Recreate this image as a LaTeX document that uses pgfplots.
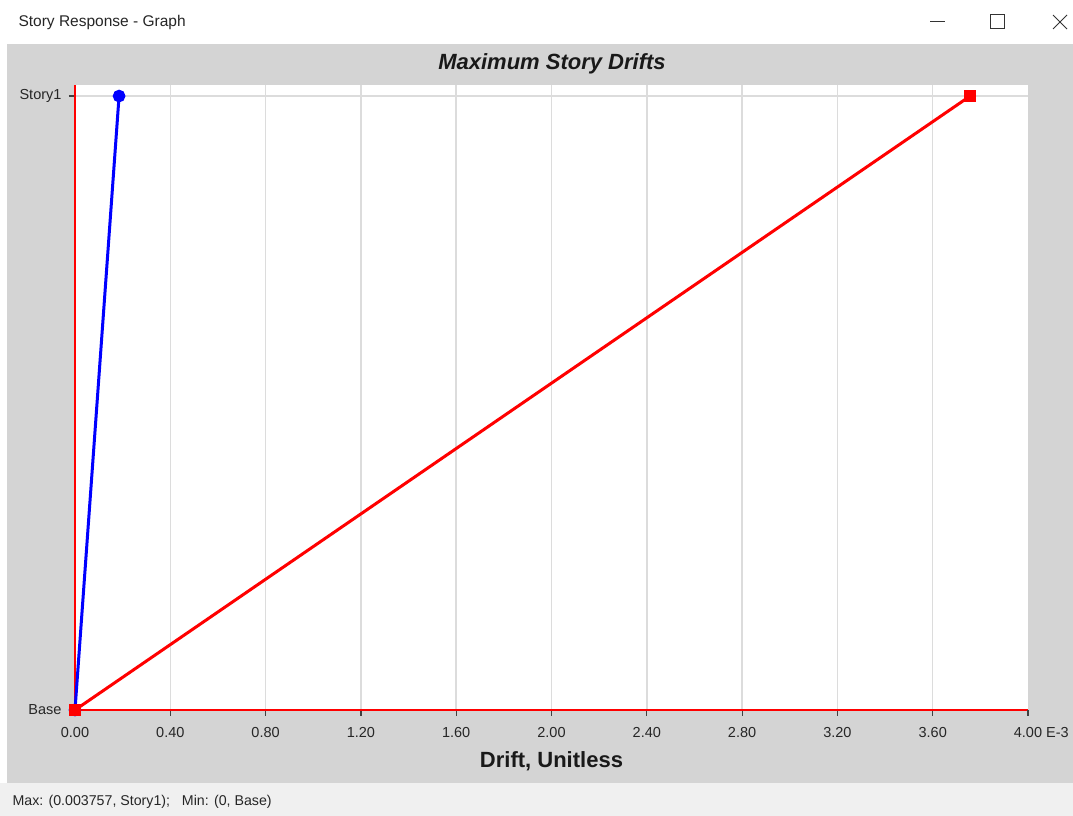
\documentclass[border=0pt]{standalone}
\usepackage{fontspec}
\setmainfont{Liberation Sans}
\usepackage{pgfplots}
\pgfplotsset{compat=1.18}
\definecolor{panel}{HTML}{D4D4D4}
\definecolor{statusbg}{HTML}{F0F0F0}
\definecolor{gridc}{HTML}{DCDCDC}

\begin{document}
\begin{tikzpicture}[x=1pt,y=1pt]
% window frame, panel and status bar
\fill[white] (0,0) rectangle (1073,816);
\fill[statusbg] (0,0) rectangle (1073,33);
\fill[panel] (7,33) rectangle (1073,772);
\node[anchor=west, font=\fontsize{15.5}{18}\selectfont, text=black!85] at (15,793) {Story Response - Graph};
\draw[black!80, line width=1pt] (930,794) -- (945,794);
\draw[black!80, line width=1pt] (990,787) rectangle (1004,801);
\draw[black!80, line width=1pt] (1053,787) -- (1067,801) (1053,801) -- (1067,787);
\node[anchor=west, font=\fontsize{14.2}{16}\selectfont, text=black!85] at (9,14) {Max: (0.003757, Story1);\ \ \ Min: (0, Base)};
\node[font=\fontsize{22}{26}\selectfont\bfseries\itshape, text=black!90] at (552,752) {Maximum Story Drifts};

\begin{axis}[
  at={(75pt,106pt)}, anchor=south west,
  scale only axis, width=953pt, height=625pt,
  xmin=0, xmax=4, ymin=0, ymax=1,
  enlarge y limits={upper, value=0.018},
  axis x line*=bottom, axis y line*=left,
  axis line style={red, line width=1.5pt, -},
  axis background/.style={fill=white},
  xtick={0,0.4,0.8,1.2,1.6,2.0,2.4,2.8,3.2,3.6},
  xticklabels={0.00,0.40,0.80,1.20,1.60,2.00,2.40,2.80,3.20,3.60},
  extra x ticks={4},
  extra x tick labels={4.00\rlap{ E-3}},
  extra x tick style={grid=none},
  ytick={0,1}, yticklabels={Base,Story1},
  tick align=outside, major tick length=6pt,
  tick style={black!75, line width=1.2pt},
  xmajorgrids, ymajorgrids,
  grid style={gridc, line width=1.5pt},
  tick label style={font=\fontsize{14.5}{16}\selectfont, text=black!85},
  x tick label style={yshift=-8pt},
  y tick label style={xshift=-4pt},
  xlabel={Drift, Unitless},
  xlabel style={font=\fontsize{22}{26}\selectfont\bfseries, text=black!90,
    at={(axis description cs:0.5,0)}, anchor=center, yshift=-51pt},
  clip=false,
]
\addplot[blue, line width=3pt, mark=*, mark size=4.8pt, mark options={solid, fill=blue}]
  coordinates {(0,0) (0.185,1)};
\addplot[red, line width=3pt, mark=square*, mark size=4.5pt, mark options={solid, fill=red}]
  coordinates {(0,0) (3.757,1)};
\end{axis}
\end{tikzpicture}
\end{document}
